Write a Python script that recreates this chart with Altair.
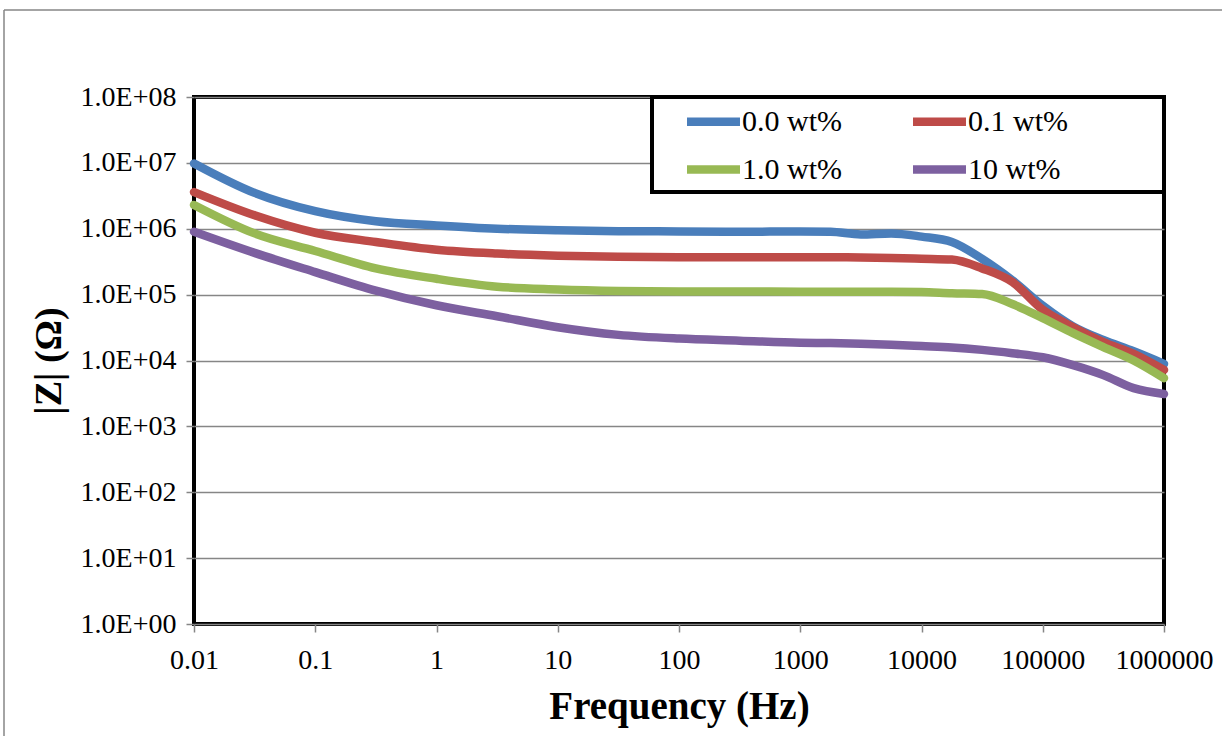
import altair as alt
import pandas as pd

# Frequency grid (Hz)
freq = [0.01, 0.0316, 0.1, 0.316, 1, 3.16, 10, 31.6, 100, 316, 1000, 1780,
        3160, 5620, 10000, 17800, 31600, 56200, 100000, 178000, 316000, 562000, 1000000]

# |Z| (Ohm) per series
z_00 = [9.8e6, 3.5e6, 1.85e6, 1.3e6, 1.12e6, 1.0e6, 9.5e5, 9.2e5, 9.1e5, 9.0e5, 9.1e5, 9.0e5,
        8.2e5, 8.5e5, 7.6e5, 6.3e5, 3.5e5, 1.65e5, 6.8e4, 3.3e4, 2.05e4, 1.38e4, 8.9e3]
z_01 = [3.6e6, 1.6e6, 8.7e5, 6.3e5, 4.8e5, 4.2e5, 3.9e5, 3.75e5, 3.7e5, 3.7e5, 3.7e5, 3.7e5,
        3.67e5, 3.6e5, 3.5e5, 3.4e5, 2.5e5, 1.55e5, 5.9e4, 3.2e4, 1.9e4, 1.26e4, 7.2e3]
z_10 = [2.3e6, 8.5e5, 4.6e5, 2.5e5, 1.74e5, 1.32e5, 1.2e5, 1.14e5, 1.12e5, 1.12e5, 1.11e5, 1.11e5,
        1.11e5, 1.11e5, 1.1e5, 1.05e5, 1.02e5, 7.2e4, 4.4e4, 2.6e4, 1.6e4, 1.0e4, 5.4e3]
z_100 = [9.0e5, 4.3e5, 2.2e5, 1.15e5, 6.9e4, 4.7e4, 3.2e4, 2.45e4, 2.15e4, 2.0e4, 1.86e4, 1.84e4,
         1.8e4, 1.74e4, 1.66e4, 1.58e4, 1.45e4, 1.29e4, 1.12e4, 8.5e3, 6.0e3, 3.8e3, 3.1e3]

series_names = ["0.0 wt%", "0.1 wt%", "1.0 wt%", "10 wt%"]
series_vals = [z_00, z_01, z_10, z_100]
series_colors = ["#4A7EBB", "#BE4B48", "#98B954", "#7D60A0"]

y_ticks = [1, 10, 100, 1000, 1e4, 1e5, 1e6, 1e7, 1e8]
x_ticks = [0.01, 0.1, 1, 10, 100, 1000, 10000, 100000, 1000000]

rows = []
for name, vals in zip(series_names, series_vals):
    for f, z in zip(freq, vals):
        rows.append({"series": name, "freq": f, "z": z})
df = pd.DataFrame(rows)

FONT = "Liberation Serif"
GRID = "#868686"

lines = alt.Chart(df).mark_line(strokeWidth=8.5, strokeCap="round", interpolate="monotone").encode(
    x=alt.X("freq:Q",
            scale=alt.Scale(type="log", domain=[0.01, 1000000], nice=False),
            axis=alt.Axis(values=x_ticks, format=".2~f", title="Frequency (Hz)",
                          grid=False, domain=False, tickColor=GRID, tickSize=8, tickWidth=1.5,
                          labelFont=FONT, labelFontSize=28, labelColor="black", labelPadding=14,
                          labelFlush=False, labelOverlap=False,
                          titleFont=FONT, titleFontSize=39, titleFontWeight="bold",
                          titleColor="black", titlePadding=13)),
    y=alt.Y("z:Q",
            scale=alt.Scale(type="log", domain=[1, 1e8], nice=False),
            axis=alt.Axis(values=y_ticks, labelExpr="'1.0E+0' + round(log(datum.value)/LN10)",
                          title="|Z| (Ω)", grid=True, gridColor=GRID, gridWidth=1.5,
                          domain=False, tickColor=GRID, tickSize=8, tickWidth=1.5,
                          labelFont=FONT, labelFontSize=28, labelColor="black", labelPadding=10,
                          labelFlush=False, labelOverlap=False,
                          titleFont=FONT, titleFontSize=38, titleFontWeight="bold",
                          titleColor="black", titlePadding=12)),
    color=alt.Color("series:N",
                    scale=alt.Scale(domain=series_names, range=series_colors),
                    legend=alt.Legend(title=None, orient="none", legendX=502, legendY=7,
                                      direction="horizontal", columns=2,
                                      columnPadding=54, rowPadding=13,
                                      symbolType="M-2,0H2", symbolStrokeWidth=8.5, symbolSize=702,
                                      labelFont=FONT, labelFontSize=30, labelColor="black",
                                      labelOffset=11, padding=0)),
)

one = alt.Data(values=[{}])
legend_box = alt.Chart(one).mark_rect(fill="white", stroke="black", strokeWidth=4).encode(
    x=alt.value(458), x2=alt.value(970), y=alt.value(0), y2=alt.value(95))
frame_top = alt.Chart(one).mark_rule(color=GRID, strokeWidth=1.5).encode(
    x=alt.value(-190), x2=alt.value(1030), y=alt.value(-87))
frame_left = alt.Chart(one).mark_rule(color=GRID, strokeWidth=1.5).encode(
    x=alt.value(-190), y=alt.value(-87), y2=alt.value(660))

chart = alt.layer(frame_top, frame_left, lines, legend_box).properties(
    width=970, height=527,
    autosize=alt.AutoSizeParams(type="none"),
    padding={"left": 194, "top": 97, "right": 58, "bottom": 112},
    background="white",
).configure_view(stroke="black", strokeWidth=4)

chart.save("out.html", embed_options={"renderer": "svg", "actions": False})
